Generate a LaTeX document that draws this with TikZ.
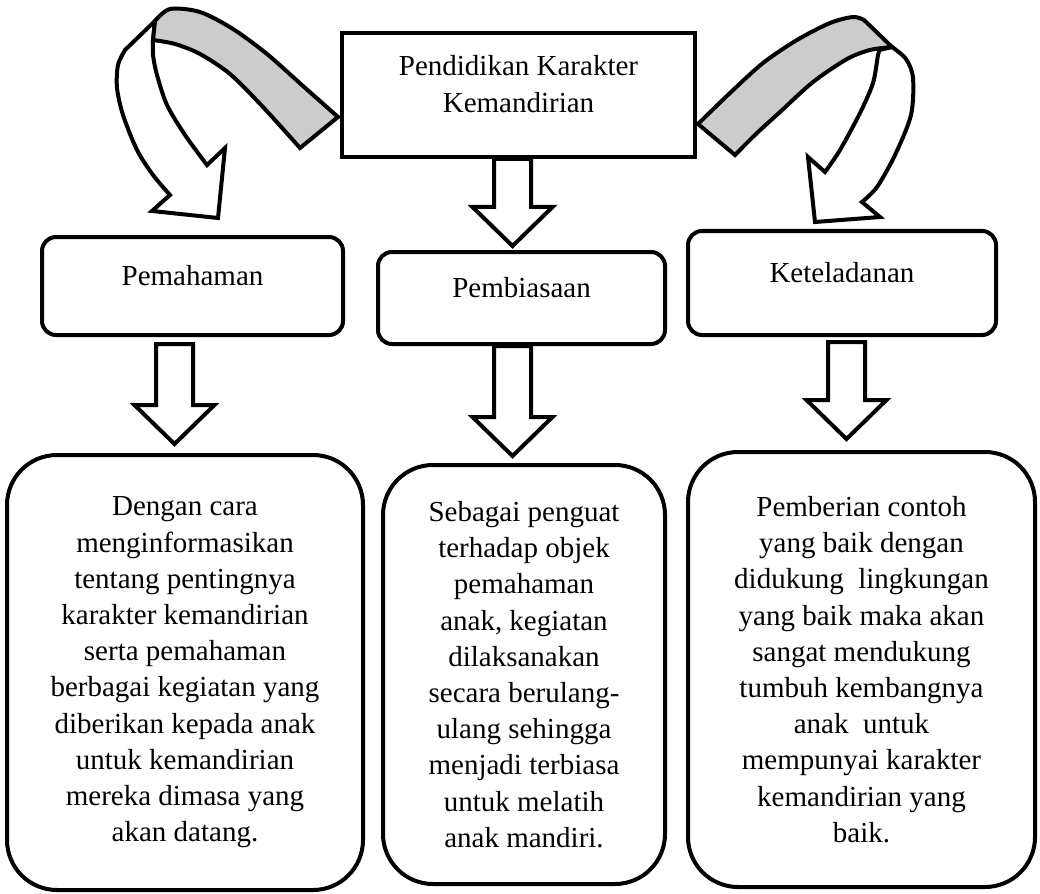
\documentclass[tikz,border=0pt]{standalone}
\usepackage{fontspec}
\setmainfont{Liberation Serif}
\usepackage{tikz}
\usetikzlibrary{calc}
\definecolor{bandGray}{HTML}{CCCCCC}
\tikzset{
  topbox/.style={draw, line width=4pt, inner sep=0pt, align=center, font=\fontsize{29}{37}\selectfont},
  midbox/.style={draw, line width=4pt, rounded corners=14pt, inner sep=0pt, font=\fontsize{29}{36}\selectfont},
  endbox/.style={draw, line width=4pt, rounded corners=50pt, inner sep=0pt, align=center, font=\fontsize{29}{36.2}\selectfont},
  blk/.style={draw, fill=white, line width=4pt},
  band/.style={draw, fill=bandGray, line width=4pt},
  ribbon/.style={draw, fill=white, line width=4pt},
}
\newcommand{\blockdown}[5]{%
  \draw[blk] let \p1=(#1.south), \p2=(#2.north) in
    (#3pt-18.5pt,\y1-#4pt) -- (#3pt+18.5pt,\y1-#4pt)
    -- (#3pt+18.5pt,\y2+#5pt+39pt) -- (#3pt+40pt,\y2+#5pt+39pt)
    -- (#3pt,\y2+#5pt) -- (#3pt-40pt,\y2+#5pt+39pt)
    -- (#3pt-18.5pt,\y2+#5pt+39pt) -- cycle;}

\begin{document}
\begin{tikzpicture}[x=1pt, y=-1pt]
  \useasboundingbox (0,0) rectangle (1040,893);
  % curved arrows
  \draw[ribbon] (155,21) -- plot[smooth] coordinates {(125,50) (118,65) (117,88) (123,115) (137,150) (153,175) (170,195)}
    -- (152,211) -- (218,218) -- (225,148) -- (207,165)
    -- plot[smooth] coordinates {(207,165) (185,135) (167,105) (157,75) (153,55) (153,40)} -- cycle;
  \draw[band] plot[smooth] coordinates {(155,21) (170,9) (200,12) (233,29) (267,54) (303,86) (338,117)}
    -- (300,148) -- plot[smooth] coordinates {(300,148) (263,107) (230,74) (200,54) (175,44) (153,40)} -- cycle;
  \draw[ribbon] (892,47) -- plot[smooth] coordinates {(892,47) (906,59) (913,78) (911,115) (895,155) (877,187) (862,202)}
    -- (880,217) -- (815,222) -- (808,157) -- (825,172)
    -- plot[smooth] coordinates {(825,172) (840,150) (860,113) (873,83) (878,55) (880,50)} -- cycle;
  \draw[band] plot[smooth] coordinates {(698,124) (730,93) (763,63) (797,40) (830,23) (853,17) (864,20)}
    -- (892,47) -- plot[smooth] coordinates {(892,47) (870,50) (847,59) (813,82) (780,112) (757,133) (735,155)} -- cycle;
  % boxes
  \node[topbox, minimum width=353pt, text height=80pt, text depth=44pt, anchor=base] (kar) at (518.5,113) {Pendidikan Karakter\\Kemandirian};
  \node[midbox, minimum width=301pt, text height=48pt, text depth=50pt, anchor=base] (pem) at (192.5,285) {Pemahaman};
  \node[midbox, minimum width=287pt, text height=45pt, text depth=47pt, anchor=base] (pbs) at (521.5,297) {Pembiasaan};
  \node[midbox, minimum width=308pt, text height=51pt, text depth=53pt, anchor=base] (ktl) at (842,282) {Keteladanan};
  \node[endbox, minimum width=356pt, minimum height=435pt] (pemtxt) at (185,672.5) {Dengan cara\\menginformasikan\\tentang pentingnya\\karakter kemandirian\\serta pemahaman\\berbagai kegiatan yang\\diberikan kepada anak\\untuk kemandirian\\mereka dimasa yang\\akan datang.};
  \node[endbox, minimum width=282pt, minimum height=419pt] (pbstxt) at (524,674.5) {Sebagai penguat\\terhadap objek\\pemahaman\\anak, kegiatan\\dilaksanakan\\secara berulang-\\ulang sehingga\\menjadi terbiasa\\untuk melatih\\anak mandiri.};
  \node[endbox, minimum width=347pt, minimum height=435pt] (ktltxt) at (861.5,669.5) {Pemberian contoh\\yang baik dengan\\didukung~ lingkungan\\yang baik maka akan\\sangat mendukung\\tumbuh kembangnya\\anak~ untuk\\mempunyai karakter\\kemandirian yang\\baik.};
  % block arrows
  \blockdown{kar}{pbs}{512.5}{0}{4}
  \blockdown{pem}{pemtxt}{174.5}{7}{9}
  \blockdown{pbs}{pbstxt}{512.5}{0}{7}
  \blockdown{ktl}{ktltxt}{846.5}{5}{11}
\end{tikzpicture}
\end{document}
